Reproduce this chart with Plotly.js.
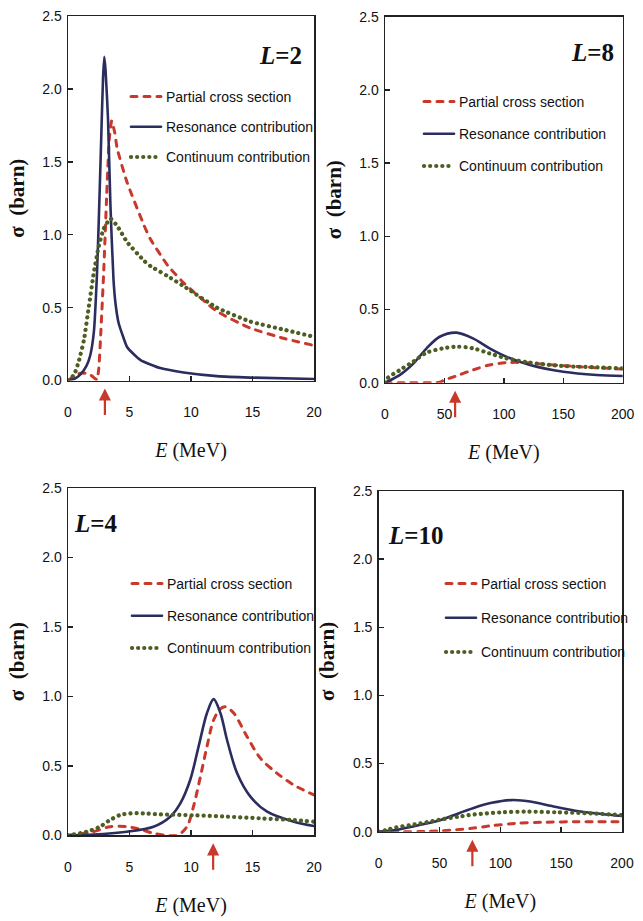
<!DOCTYPE html>
<html>
<head>
<meta charset="utf-8">
<script src="https://cdn.plot.ly/plotly-3.0.1.min.js"></script>
<style>
  html, body { margin: 0; padding: 0; background: #fff; }
  #chart { width: 643px; height: 921px; }
  .js-line { stroke-linecap: round; }
</style>
</head>
<body>
<div id="chart"></div>
<script>
// ---------------- DATA ----------------
const seriesNames = ["Partial cross section", "Resonance contribution", "Continuum contribution"];
const panelLabels = ["2", "8", "4", "10"];
const arrowE = [3.0, 59, 11.8, 77];

// L = 2 (E in MeV, sigma in barn)
const L2_partial_E = [0, 0.5, 1.0, 1.4, 1.8, 2.1, 2.35, 2.5, 2.64, 2.9, 3.15, 3.35, 3.55, 3.8, 4.0, 4.8, 6.2, 6.7, 8.1, 9.4, 12.1, 14.8, 17.5, 20];
const L2_partial_S = [0, 0.03, 0.05, 0.05, 0.04, 0.02, 0.005, 0.08, 0.28, 0.74, 1.28, 1.65, 1.78, 1.70, 1.59, 1.36, 1.06, 0.97, 0.79, 0.67, 0.475, 0.36, 0.29, 0.24];
const L2_res_E = [0, 0.5, 1.0, 1.5, 1.8, 2.1, 2.35, 2.5, 2.7, 2.85, 2.95, 3.05, 3.25, 3.45, 3.7, 3.86, 4.1, 4.4, 4.8, 5.35, 5.9, 6.7, 7.5, 9.4, 12.1, 14.8, 20];
const L2_res_S = [0, 0.01, 0.04, 0.10, 0.17, 0.33, 0.72, 1.09, 1.66, 2.08, 2.22, 2.13, 1.80, 1.20, 0.69, 0.53, 0.40, 0.32, 0.23, 0.18, 0.14, 0.11, 0.085, 0.055, 0.03, 0.02, 0.01];
const L2_cont_E = [0, 0.5, 0.9, 1.3, 1.7, 2.1, 2.5, 2.9, 3.45, 4.0, 4.8, 6.2, 6.7, 8.1, 9.4, 12.1, 14.8, 17.5, 20];
const L2_cont_S = [0, 0.04, 0.14, 0.28, 0.51, 0.74, 0.92, 1.04, 1.11, 1.06, 0.95, 0.82, 0.785, 0.716, 0.647, 0.50, 0.405, 0.35, 0.30];

// L = 8
const L8_partial_E = [0, 20, 40, 46, 50, 60, 74, 88, 102, 116, 136, 164, 200];
const L8_partial_S = [0, 0, 0, 0.003, 0.018, 0.046, 0.087, 0.121, 0.137, 0.138, 0.125, 0.109, 0.093];
const L8_res_E = [0, 1.4, 12.6, 23.8, 35, 46, 60, 74, 88, 102, 122, 150, 178, 200];
const L8_res_S = [0, 0.005, 0.053, 0.13, 0.235, 0.314, 0.342, 0.303, 0.235, 0.178, 0.121, 0.075, 0.053, 0.046];
const L8_cont_E = [0, 2, 12.6, 23.8, 35, 49, 60, 74, 88, 102, 122, 150, 178, 200];
const L8_cont_S = [0, 0.03, 0.087, 0.144, 0.205, 0.235, 0.246, 0.235, 0.2, 0.167, 0.137, 0.114, 0.105, 0.098];

// L = 4
const L4_partial_E = [0, 2.06, 3.42, 4.78, 5.87, 6.95, 8.0, 8.9, 9.67, 10.2, 10.76, 11.3, 11.84, 12.39, 12.8, 13.47, 14.56, 15.65, 17.0, 18.36, 20];
const L4_partial_S = [0, 0.026, 0.062, 0.062, 0.043, 0.014, 0, 0, 0.062, 0.206, 0.42, 0.64, 0.83, 0.91, 0.925, 0.88, 0.71, 0.554, 0.446, 0.362, 0.29];
const L4_res_E = [0, 2.06, 4.78, 6.95, 8.31, 9.13, 9.94, 10.62, 11.3, 11.84, 12.39, 12.93, 13.75, 14.83, 16.19, 18.36, 20];
const L4_res_S = [0, 0.005, 0.026, 0.062, 0.134, 0.23, 0.40, 0.64, 0.88, 0.98, 0.88, 0.686, 0.446, 0.278, 0.17, 0.098, 0.067];
const L4_cont_E = [0, 1.52, 2.6, 3.42, 4.24, 5.05, 6.14, 7.5, 10.2, 12.93, 15.65, 18.36, 20];
const L4_cont_S = [0, 0.026, 0.062, 0.11, 0.146, 0.158, 0.158, 0.151, 0.144, 0.134, 0.122, 0.11, 0.098];

// L = 10
const L10_partial_E = [0, 20, 38, 52, 76.5, 92.9, 112, 134, 161.4, 200];
const L10_partial_S = [0, 0, 0.002, 0.007, 0.025, 0.044, 0.061, 0.069, 0.073, 0.072];
const L10_res_E = [0, 13.4, 29.9, 49, 65.5, 79.2, 92.9, 109.4, 125.8, 142.3, 161.4, 183.4, 200];
const L10_res_S = [0, 0.012, 0.042, 0.08, 0.134, 0.178, 0.212, 0.232, 0.22, 0.188, 0.154, 0.13, 0.115];
const L10_cont_E = [0, 6, 13.4, 29.9, 49, 65.5, 79.2, 101.1, 123, 147.7, 175.2, 200];
const L10_cont_S = [0, 0.012, 0.03, 0.054, 0.086, 0.11, 0.127, 0.142, 0.147, 0.142, 0.134, 0.122];

const yTickVals = [0, 0.5, 1.0, 1.5, 2.0, 2.5];
const yTickText = ["0.0", "0.5", "1.0", "1.5", "2.0", "2.5"];

// ---------------- STYLE ----------------
const W = 643, H = 921;
const fx = p => p / W;
const fy = p => 1 - p / H;
const RED = "#c8392b", NAVY = "#2b2d5e", GREEN = "#4c5e22";
const SANS = "'Liberation Sans Narrow', 'Arial Narrow', 'Liberation Sans', Arial, sans-serif";
const TICKFONT = {family: SANS, size: 14, color: "#111"};
const LEGFONT = {family: SANS, size: 14, color: "#111"};
const SERIF = "'Liberation Serif', 'Times New Roman', serif";

const panels = [
  {p: L2_partial_E, ps: L2_partial_S, r: L2_res_E, rs: L2_res_S, c: L2_cont_E, cs: L2_cont_S,
   xr: [0, 20], dt: 5, dom: [68, 314, 16, 380.5], leg: [126, 81], gap: 9},
  {p: L8_partial_E, ps: L8_partial_S, r: L8_res_E, rs: L8_res_S, c: L8_cont_E, cs: L8_cont_S,
   xr: [0, 200], dt: 50, dom: [385, 622.7, 16.7, 382.7], leg: [419, 86], gap: 11},
  {p: L4_partial_E, ps: L4_partial_S, r: L4_res_E, rs: L4_res_S, c: L4_cont_E, cs: L4_cont_S,
   xr: [0, 20], dt: 5, dom: [68, 314, 488, 835.3], leg: [127, 568], gap: 11},
  {p: L10_partial_E, ps: L10_partial_S, r: L10_res_E, rs: L10_res_S, c: L10_cont_E, cs: L10_cont_S,
   xr: [0, 200], dt: 50, dom: [378.7, 622, 491, 831.7], leg: [441, 568], gap: 13}
];

const traces = [];
const layout = {
  width: W, height: H,
  margin: {l: 0, r: 0, t: 0, b: 0},
  paper_bgcolor: "#fff", plot_bgcolor: "#fff",
  showlegend: true,
  annotations: []
};

const labelPos = [
  {x: 304, y: 55, xa: "right"},
  {x: 616, y: 52, xa: "right"},
  {x: 72, y: 523, xa: "left"},
  {x: 386, y: 535, xa: "left"}
];

panels.forEach((P, i) => {
  const n = i === 0 ? "" : String(i + 1);
  const xa = "x" + n, ya = "y" + n;
  const legName = "legend" + n;
  const sm = i === 0 ? 0.5 : 0.9;
  const common = {xaxis: xa, yaxis: ya, mode: "lines", legend: legName, hoverinfo: "x+y"};
  traces.push(Object.assign({}, common, {x: P.p, y: P.ps, name: seriesNames[0], legendgroup: "a" + i,
    line: {color: RED, width: 3, dash: "6px,7px", shape: "spline", smoothing: sm}}));
  traces.push(Object.assign({}, common, {x: P.r, y: P.rs, name: seriesNames[1], legendgroup: "b" + i,
    line: {color: NAVY, width: 2.6, shape: "spline", smoothing: sm}}));
  traces.push(Object.assign({}, common, {x: P.c, y: P.cs, name: seriesNames[2], legendgroup: "c" + i,
    line: {color: GREEN, width: 4.2, dash: "0.1px,6px", shape: "spline", smoothing: sm}}));

  const [x0, x1, yTop, yBot] = P.dom;
  layout["xaxis" + n] = {
    domain: [fx(x0), fx(x1)], anchor: ya, range: P.xr, dtick: P.dt, tick0: 0,
    showline: true, mirror: true, linecolor: "#222", linewidth: 1.5,
    ticks: "inside", ticklen: 5, tickwidth: 1.5, tickcolor: "#222",
    showgrid: false, zeroline: false, tickfont: TICKFONT, ticklabelstandoff: 18,
    title: {text: "<i>E</i> (MeV)", font: {family: SERIF, size: 20, color: "#111"}, standoff: 24}
  };
  layout["yaxis" + n] = {
    domain: [fy(yBot), fy(yTop)], anchor: xa, range: [0, 2.5],
    tickvals: yTickVals, ticktext: yTickText,
    showline: true, mirror: true, linecolor: "#222", linewidth: 1.5,
    ticks: "inside", ticklen: 5, tickwidth: 1.5, tickcolor: "#222",
    showgrid: false, zeroline: false, tickfont: TICKFONT, ticklabelstandoff: 2,
    title: {text: "<b>σ&nbsp;&nbsp;(barn)</b>", font: {family: SERIF, size: 21, color: "#111"}, standoff: 12}
  };
  layout[legName] = {
    x: fx(P.leg[0]), y: fy(P.leg[1]), xanchor: "left", yanchor: "top",
    bgcolor: "rgba(0,0,0,0)", borderwidth: 0, font: LEGFONT,
    traceorder: "grouped", tracegroupgap: P.gap, itemwidth: 30
  };

  // resonance-energy arrow under the axis
  layout.annotations.push({
    x: arrowE[i], y: 0, xref: xa, yref: ya, text: "", showarrow: true,
    ax: 0, ay: 36, arrowcolor: RED, arrowwidth: 2.2, arrowhead: 2, arrowsize: 1.1, standoff: 8
  });
  // L label
  const lp = labelPos[i];
  layout.annotations.push({
    x: fx(lp.x), y: fy(lp.y), xref: "paper", yref: "paper", xanchor: lp.xa, yanchor: "middle",
    text: "<b><i>L</i>=" + panelLabels[i] + "</b>", showarrow: false,
    font: {family: SERIF, size: 25, color: "#111"}
  });
});

Plotly.newPlot("chart", traces, layout, {displayModeBar: false, staticPlot: true});
</script>
</body>
</html>
